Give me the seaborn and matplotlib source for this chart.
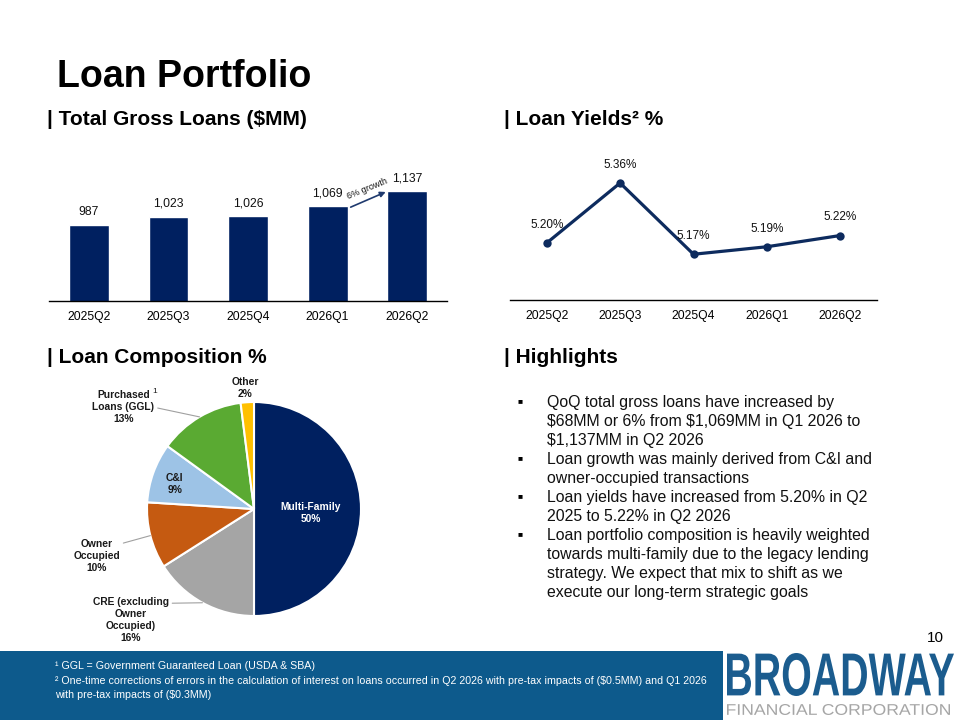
import numpy as np
import pandas as pd
import seaborn as sns
import matplotlib.pyplot as plt
from matplotlib.patches import Rectangle, PathPatch
from matplotlib.textpath import TextPath
from matplotlib.font_manager import FontProperties
from matplotlib.transforms import Affine2D

# data
quarters = ['2025Q2', '2025Q3', '2025Q4', '2026Q1', '2026Q2']
gross_loans = [987, 1023, 1026, 1069, 1137]
loan_yields = [5.20, 5.36, 5.17, 5.19, 5.22]

segments = ['Multi-Family', 'CRE (excluding\nOwner\nOccupied)', 'Owner\nOccupied',
            'C&I', 'Purchased\nLoans (GGL)', 'Other']
shares = [50, 16, 10, 9, 13, 2]

highlights = [
    ['QoQ total gross loans have increased by',
     '$68MM or 6% from $1,069MM in Q1 2026 to',
     '$1,137MM in Q2 2026'],
    ['Loan growth was mainly derived from C&I and',
     'owner-occupied transactions'],
    ['Loan yields have increased from 5.20% in Q2',
     '2025 to 5.22% in Q2 2026'],
    ['Loan portfolio composition is heavily weighted',
     'towards multi-family due to the legacy lending',
     'strategy. We expect that mix to shift as we',
     'execute our long-term strategic goals'],
]
footnotes = [
    '\u00b9 GGL = Government Guaranteed Loan (USDA & SBA)',
    '\u00b2 One-time corrections of errors in the calculation of interest on loans occurred in Q2 2026 with pre-tax impacts of ($0.5MM) and Q1 2026',
    'with pre-tax impacts of ($0.3MM)',
]

sns.set_style('white')
plt.rcParams['font.family'] = ['Liberation Sans', 'DejaVu Sans']
plt.rcParams['text.parse_math'] = False
plt.rcParams['text.color'] = 'black'
plt.rcParams['xtick.color'] = 'black'
plt.rcParams['xtick.labelcolor'] = 'black'

navy = '#002060'
line_col = '#0d2b5e'
band_col = '#0d5a8c'
pie_colors = ['#002060', '#a5a5a5', '#c55a11', '#9dc3e6', '#5aaa32', '#ffc000']

fig = plt.figure(figsize=(9.6, 7.2), dpi=100)

# page layer, pixel coordinates (y down)
page = fig.add_axes([0, 0, 1, 1])
page.set_xlim(0, 960)
page.set_ylim(720, 0)
page.axis('off')

page.text(57, 87, 'Loan Portfolio', fontsize=27, fontweight='bold', va='baseline')
page.text(47, 125, '| Total Gross Loans ($MM)', fontsize=15, fontweight='bold', va='baseline')
page.text(504, 125, '| Loan Yields\u00b2 %', fontsize=15, fontweight='bold', va='baseline')
page.text(47, 363, '| Loan Composition %', fontsize=15, fontweight='bold', va='baseline')
page.text(504, 363, '| Highlights', fontsize=15, fontweight='bold', va='baseline')

# highlights bullets
row = 0
for bullet in highlights:
    page.text(520, 402 + row * 19, '\u25a0', fontsize=6, va='center', ha='center')
    for line in bullet:
        page.text(547, 407 + row * 19, line, fontsize=11.4, va='baseline', color='#111111')
        row += 1

page.text(935, 642, '10', fontsize=11, ha='center', va='baseline')

# footer band
page.add_patch(Rectangle((0, 651), 723, 69, color=band_col, lw=0))
for i, note in enumerate(footnotes):
    page.text(55, 669 + i * 14.5, note, fontsize=7.7, color='white', va='baseline')


def fit_text(s, x0, x1, ytop, ybot, color, weight):
    tp = TextPath((0, 0), s, size=10, prop=FontProperties(family='Liberation Sans', weight=weight))
    bb = tp.get_extents()
    tr = (Affine2D().translate(-bb.x0, -bb.y0)
          .scale((x1 - x0) / bb.width, -(ybot - ytop) / bb.height)
          .translate(x0, ybot))
    page.add_patch(PathPatch(tr.transform_path(tp), color=color, lw=0))


fit_text('BROADWAY', 727, 954, 653, 696, '#1b5c8e', 'bold')
fit_text('FINANCIAL CORPORATION', 727, 950, 704, 715, '#a6a6a6', 'normal')

# total gross loans bars
ax1 = fig.add_axes([49 / 960, 1 - 301 / 720, 398 / 960, 141 / 720])
df_loans = pd.DataFrame({'quarter': quarters, 'loans': gross_loans})
sns.barplot(data=df_loans, x='quarter', y='loans', color=navy, width=0.5,
            saturation=1, ax=ax1)
ax1.bar_label(ax1.containers[0], labels=[f'{v:,}' for v in gross_loans],
              padding=5, fontsize=8.7, color='#111111')
ax1.set_ylim(652, 1274)
ax1.set_xlim(-0.5, 4.5)
ax1.set(xlabel='', ylabel='')
ax1.set_yticks([])
sns.despine(ax=ax1, left=True)
ax1.spines['bottom'].set_color('black')
ax1.spines['bottom'].set_linewidth(1)
ax1.tick_params(axis='x', length=0, pad=7, labelsize=8.7)
ax1.patch.set_alpha(0)

# growth arrow between last two bars
ax1.annotate('', xy=(4 - 0.27, gross_loans[4] - 4), xytext=(3 + 0.29, gross_loans[3] - 3),
             arrowprops=dict(arrowstyle='-|>', color='#1f3a6e', lw=1.2, mutation_scale=8,
                             shrinkA=0, shrinkB=0))
ax1.text(3.5, (gross_loans[3] + gross_loans[4]) / 2 + 44, '6% growth', fontsize=6.5,
         rotation=22, ha='center', va='center', color='#111111')

# loan yields line
ax2 = fig.add_axes([510 / 960, 1 - 300 / 720, 367 / 960, 150 / 720])
sns.lineplot(x=np.arange(len(quarters)), y=loan_yields, color=line_col, lw=2.3,
             marker='o', markersize=6, markeredgewidth=0, ax=ax2)
for i, v in enumerate(loan_yields):
    ax2.annotate(f'{v:.2f}%', (i, v), xytext=(0, 13), textcoords='offset points',
                 ha='center', va='center', fontsize=8.5, color='#111111')
ax2.set_xlim(-0.5, 4.5)
ax2.set_ylim(5.048, 5.448)
ax2.set_xticks(np.arange(len(quarters)))
ax2.set_xticklabels(quarters)
ax2.set_yticks([])
sns.despine(ax=ax2, left=True)
ax2.spines['bottom'].set_color('black')
ax2.spines['bottom'].set_linewidth(1)
ax2.tick_params(axis='x', length=0, pad=7, labelsize=8.7)
ax2.patch.set_alpha(0)

# loan composition pie
ax3 = fig.add_axes([(254 - 130) / 960, (720 - 509 - 130) / 720, 260 / 960, 260 / 720])
wedges, _ = ax3.pie(shares, colors=pie_colors, startangle=90, counterclock=False,
                    wedgeprops=dict(edgecolor='white', linewidth=1.5))
ax3.set_xlim(-1.215, 1.215)
ax3.set_ylim(-1.215, 1.215)

label_pos = [(0.53, -0.04), (-1.15, -1.04), (-1.47, -0.435), (-0.74, 0.23),
             (-1.22, 0.95), (-0.085, 1.135)]
leader = [None, (1, 0.87), (1, 0.84), None, (1, 0.5), None]
for w, name, s, pos, rel, col in zip(wedges, segments, shares, label_pos, leader,
                                     ['white'] + ['#1a1a1a'] * 5):
    label = f'{name}\n{s}%'
    if rel is None:
        ax3.text(pos[0], pos[1], label, ha='center', va='center', fontsize=7.4,
                 fontweight='bold', color=col, linespacing=1.25)
    else:
        mid = np.deg2rad((w.theta1 + w.theta2) / 2)
        ax3.annotate(label, xy=(np.cos(mid), np.sin(mid)), xytext=pos,
                     ha='center', va='center', fontsize=7.4, fontweight='bold',
                     color=col, linespacing=1.25,
                     arrowprops=dict(arrowstyle='-', color='#a0a0a0', lw=0.8,
                                     relpos=rel, shrinkA=0, shrinkB=0))
ax3.text(-0.925, 1.1, '1', fontsize=6, ha='center', va='center', color='#1a1a1a')

fig.savefig('out.png', dpi=100)
